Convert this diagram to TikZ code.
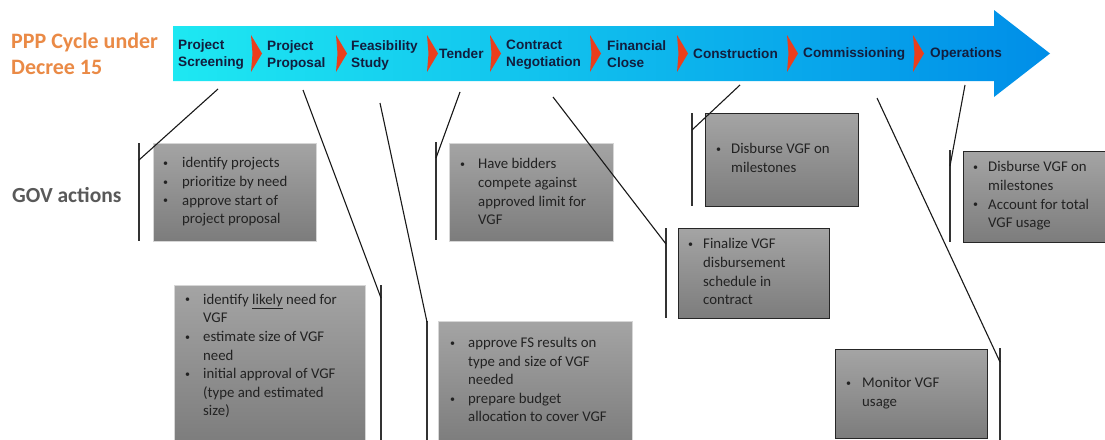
\documentclass[tikz,border=0pt]{standalone}
\usepackage{fontspec}
\setmainfont{Carlito}
\newfontfamily\stagefont{Liberation Sans}
\usepackage{array}
\definecolor{cyclecyan}{RGB}{30,232,242}
\definecolor{cyclemid}{RGB}{10,210,245}
\definecolor{cycleblue}{RGB}{0,142,232}
\definecolor{chevred}{RGB}{235,62,28}
\definecolor{stageink}{RGB}{18,30,62}
\definecolor{titleorange}{RGB}{234,138,70}
\definecolor{govgray}{RGB}{89,89,89}
\definecolor{boxtop}{RGB}{164,164,164}
\definecolor{boxbot}{RGB}{124,124,124}
\definecolor{boxink}{RGB}{34,34,34}
\newcommand\govfont{\fontsize{14.8}{18.6}\selectfont\color{boxink}}
% small list bullet
\newcommand\gbul{\raisebox{1.3pt}{\fontsize{10}{10}\selectfont\textbullet}}
% bullet list: #1 = hanging indent, #2 = rows "\gbul & text \\ & continued"
\newcommand\govlist[2]{\begin{tabular}{@{}p{#1}@{}l@{}}#2\end{tabular}}
\begin{document}
\begin{tikzpicture}[x=1pt,y=-1pt,
  stage/.style={inner sep=0, anchor=west, align=left, text=stageink,
    font=\stagefont\bfseries\fontsize{13.6}{17}\selectfont},
  govbox/.style={rectangle, inner sep=0, anchor=north west,
    top color=boxtop, bottom color=boxbot, draw=black!16, line width=0.6pt},
  govboxb/.style={govbox, draw=black!85, line width=1.4pt},
  govtext/.style={inner sep=0, anchor=west, font=\govfont},
  bracket/.style={draw=black!80, line width=1.6pt},
  link/.style={draw=black!90, line width=1.1pt},
]
\useasboundingbox (0,0) rectangle (1105,439);
\fill[white] (0,0) rectangle (1105,439);

% process arrow
\shade[left color=cyclecyan, middle color=cyclemid, right color=cycleblue]
  (173,26) -- (994,26) -- (994,10) -- (1050,53.5) -- (994,97) -- (994,81)
  -- (173,81) -- cycle;

% red chevrons between the stages
\foreach \cx in {251,336,427,490,590,677,787,913}
  \fill[chevred] (\cx,35) -- (\cx+11,53.5) -- (\cx,72) -- (\cx+1.5,53.5) -- cycle;

% stage labels
\node[stage] (st1) at (178,55) {Project\\Screening};
\node[stage] (st2) at (267,55) {Project\\Proposal};
\node[stage] (st3) at (351,55) {Feasibility\\Study};
\node[stage] (st4) at (439,54) {Tender};
\node[stage] (st5) at (506,55) {Contract\\Negotiation};
\node[stage] (st6) at (607,54) {Financial\\Close};
\node[stage] (st7) at (693,54) {Construction};
\node[stage] (st8) at (803,54) {Commissioning};
\node[stage] (st9) at (930,54) {Operations};

% side headings
\node[inner sep=0, anchor=west, align=left, text=titleorange,
  font=\bfseries\fontsize{22}{26}\selectfont] (title) at (11,54)
  {PPP Cycle under\\Decree 15};
\node[inner sep=0, anchor=base west, text=govgray,
  font=\bfseries\fontsize{21.5}{26}\selectfont] (gov) at (12,202) {GOV actions};

% government action boxes
\node[govbox,  minimum width=163, minimum height=98]  (b1) at (153,143) {};
\node[govbox,  minimum width=191, minimum height=160] (b2) at (174,285) {};
\node[govbox,  minimum width=194, minimum height=124] (b3) at (438,321) {};
\node[govbox,  minimum width=164, minimum height=98]  (b4) at (449,143) {};
\node[govboxb, minimum width=151, minimum height=90]  (b5) at (678,228) {};
\node[govboxb, minimum width=153, minimum height=93]  (b6) at (705,113) {};
\node[govboxb, minimum width=152, minimum height=89]  (b7) at (835,349) {};
\node[govboxb, minimum width=150, minimum height=91]  (b8) at (963,151) {};

\node[govtext] (t1) at (163,192) {\govlist{19pt}{%
  \gbul & identify projects\\
  \gbul & prioritize by need\\
  \gbul & approve start of\\
        & project proposal}};
\node[govtext, anchor=north west] (t2) at (185,291) {\govlist{18pt}{%
  \gbul & identify \underline{likely} need for\\
        & VGF\\
  \gbul & estimate size of VGF\\
        & need\\
  \gbul & initial approval of VGF\\
        & (type and estimated\\
        & size)}};
\node[govtext] (t3) at (450,381) {\govlist{18pt}{%
  \gbul & approve FS results on\\
        & type and size of VGF\\
        & needed\\
  \gbul & prepare budget\\
        & allocation to cover VGF}};
\node[govtext] (t4) at (460,193) {\govlist{18pt}{%
  \gbul & Have bidders\\
        & compete against\\
        & approved limit for\\
        & VGF}};
\node[govtext] (t5) at (688,273) {\govlist{15pt}{%
  \gbul & Finalize VGF\\
        & disbursement\\
        & schedule in\\
        & contract}};
\node[govtext] (t6) at (716,159) {\govlist{15pt}{%
  \gbul & Disburse VGF on\\
        & milestones}};
\node[govtext] (t7) at (846,393) {\govlist{16pt}{%
  \gbul & Monitor VGF\\
        & usage}};
\node[govtext] (t8) at (973,196) {\govlist{15pt}{%
  \gbul & Disburse VGF on\\
        & milestones\\
  \gbul & Account for total\\
        & VGF usage}};

% brackets beside the boxes
\coordinate (k1t) at (139,143);  \coordinate (k1b) at (139,241);
\coordinate (k2t) at (381,285);  \coordinate (k2b) at (381,445);
\coordinate (k3t) at (427,321);  \coordinate (k3b) at (427,445);
\coordinate (k4t) at (436,142);  \coordinate (k4b) at (436,240);
\coordinate (k5t) at (666,228);  \coordinate (k5b) at (666,318);
\coordinate (k6t) at (692,113);  \coordinate (k6b) at (692,206);
\coordinate (k7t) at (1000,348); \coordinate (k7b) at (1000,445);
\coordinate (k8t) at (950,150);  \coordinate (k8b) at (950,242);
\foreach \k in {1,...,8}
  \draw[bracket] (k\k t) -- (k\k b);

% connectors from the stages to the brackets
\coordinate (s1) at (218,89);  \coordinate (j1) at (139,160);
\coordinate (s2) at (303,90);  \coordinate (j2) at (381,298);
\coordinate (s3) at (380,103); \coordinate (j3) at (427,322);
\coordinate (s4) at (460,92);  \coordinate (j4) at (436,158);
\coordinate (s5) at (553,97);  \coordinate (j5) at (666,244);
\coordinate (s6) at (740,85);  \coordinate (j6) at (692,130);
\coordinate (s7) at (877,98);  \coordinate (j7) at (1000,362);
\coordinate (s8) at (965,85);  \coordinate (j8) at (950,166);
\foreach \k in {1,...,8}
  \draw[link] (s\k) -- (j\k);
\end{tikzpicture}
\end{document}
